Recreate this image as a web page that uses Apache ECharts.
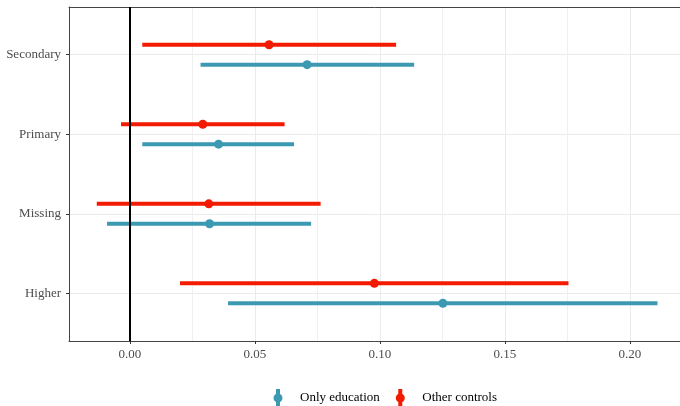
<!DOCTYPE html>
<html>
<head>
<meta charset="utf-8">
<script src="https://cdn.jsdelivr.net/npm/echarts@6/dist/echarts.min.js"></script>
<style>html,body{margin:0;padding:0;background:#fff}#c{width:680px;height:406px}</style>
</head>
<body>
<div id="c"></div>
<script>
// categories from bottom (1) to top (4)
const categories = ['Higher', 'Missing', 'Primary', 'Secondary'];
const seriesNames = ['Only education', 'Other controls'];
const eduEst = [0.1252, 0.0319, 0.0355, 0.0709];
const eduLo  = [0.0393, -0.0091, 0.0050, 0.0283];
const eduHi  = [0.2110, 0.0725, 0.0657, 0.1137];
const ctrlEst = [0.0978, 0.0316, 0.0292, 0.0557];
const ctrlLo  = [0.0201, -0.0132, -0.0035, 0.0050];
const ctrlHi  = [0.1754, 0.0763, 0.0619, 0.1065];
const xMajorTicks = [0, 0.05, 0.10, 0.15, 0.20];
const xMinorTicks = [0.025, 0.075, 0.125, 0.175];

const FONT = 'Liberation Serif';
const DODGE = 0.125;
const colors = ['#3B9AB2', '#F21A00'];
const BORDER = '#444';

function makeData(lo, est, hi) {
  return categories.map((c, i) => [i, lo[i], est[i], hi[i]]);
}

function makeRender(offset, color) {
  return function (params, api) {
    const y = api.value(0) + 1 + offset;
    const p1 = api.coord([api.value(1), y]);
    const p2 = api.coord([api.value(3), y]);
    const pc = api.coord([api.value(2), y]);
    return {
      type: 'group',
      children: [
        { type: 'line', shape: { x1: p1[0], y1: p1[1], x2: p2[0], y2: p2[1] },
          style: { stroke: color, lineWidth: 4, lineCap: 'butt' } },
        { type: 'circle', shape: { cx: pc[0], cy: pc[1], r: 4.5 },
          style: { fill: color } }
      ]
    };
  };
}

const legendIcon = 'path://M2.5,0 L6.5,0 L6.5,17 L2.5,17 Z M0,9 A4.5,4.5 0 1,1 9,9 A4.5,4.5 0 1,1 0,9 Z';

const chart = echarts.init(document.getElementById('c'), null, { renderer: 'canvas' });
chart.setOption({
  animation: false,
  backgroundColor: '#ffffff',
  textStyle: { fontFamily: FONT },
  grid: { left: 69, right: 0, top: 7, bottom: 65, show: false },
  legend: {
    left: 273.5, top: 389, padding: 0, itemGap: 16, itemWidth: 34, itemHeight: 17,
    textStyle: { fontFamily: FONT, fontSize: 13, color: '#000' },
    data: [
      { name: seriesNames[0], icon: legendIcon },
      { name: seriesNames[1], icon: legendIcon }
    ]
  },
  xAxis: [
    {
      type: 'value', min: -0.0243, max: 0.2200, position: 'bottom',
      axisLine: { show: true, onZero: false, lineStyle: { color: BORDER, width: 1 } },
      axisTick: { show: true, length: 3, lineStyle: { color: '#333' }, customValues: xMajorTicks },
      axisLabel: { customValues: xMajorTicks, formatter: v => v.toFixed(2), fontFamily: FONT, fontSize: 13, color: '#4D4D4D', margin: 7 },
      splitLine: { show: true, lineStyle: { color: '#EBEBEB', width: 1 } }
    },
    {
      type: 'value', min: -0.0243, max: 0.2200, position: 'top',
      axisLine: { show: true, onZero: false, lineStyle: { color: BORDER, width: 1 } },
      axisTick: { show: false, customValues: xMinorTicks },
      axisLabel: { show: false, customValues: xMinorTicks },
      splitLine: { show: true, lineStyle: { color: '#F0F0F0', width: 1 } }
    }
  ],
  yAxis: {
    type: 'value', min: 0.4, max: 4.6, position: 'left',
    axisLine: { show: true, onZero: false, lineStyle: { color: BORDER, width: 1 } },
    axisTick: { show: true, length: 3, lineStyle: { color: '#333' }, customValues: [1, 2, 3, 4] },
    axisLabel: { customValues: [1, 2, 3, 4], formatter: v => categories[Math.round(v) - 1], fontFamily: FONT, fontSize: 13, color: '#4D4D4D', margin: 8 },
    splitLine: { show: true, lineStyle: { color: '#EBEBEB', width: 1 } }
  },
  series: [
    {
      name: seriesNames[0], type: 'custom', xAxisIndex: 0,
      itemStyle: { color: colors[0] },
      encode: { x: [1, 2, 3], y: 0 },
      renderItem: makeRender(-DODGE, colors[0]),
      data: makeData(eduLo, eduEst, eduHi),
      z: 2
    },
    {
      name: seriesNames[1], type: 'custom', xAxisIndex: 0,
      itemStyle: { color: colors[1] },
      encode: { x: [1, 2, 3], y: 0 },
      renderItem: makeRender(DODGE, colors[1]),
      data: makeData(ctrlLo, ctrlEst, ctrlHi),
      z: 2,
      markLine: {
        silent: true, symbol: ['none', 'none'], label: { show: false },
        lineStyle: { color: '#000', width: 2, type: 'solid' },
        data: [{ xAxis: 0 }],
        z: 5
      }
    }
  ]
});
</script>
</body>
</html>
